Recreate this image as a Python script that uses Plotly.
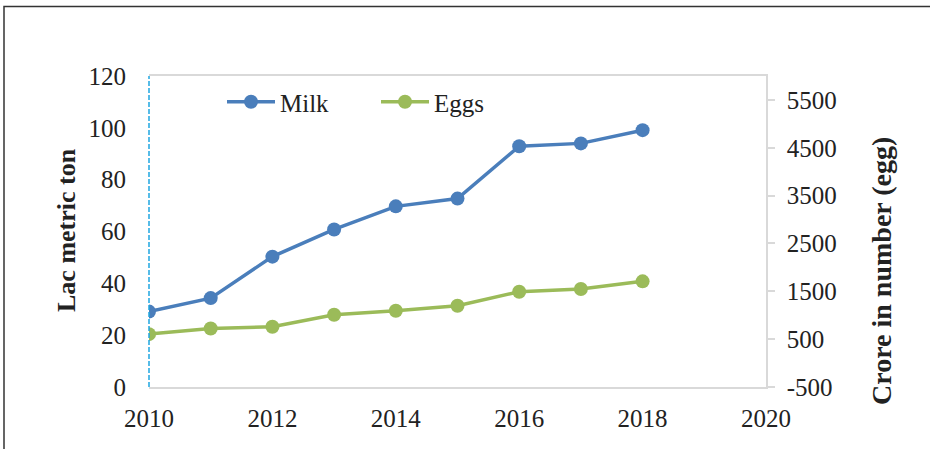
import plotly.graph_objects as go

years = [2010, 2011, 2012, 2013, 2014, 2015, 2016, 2017, 2018]
milk = [29.1, 34.3, 50.3, 60.8, 69.7, 72.7, 92.9, 94.0, 99.1]
eggs = [605, 722, 758, 1010, 1094, 1198, 1492, 1548, 1708]

x_ticks = [2010, 2012, 2014, 2016, 2018, 2020]
left_ticks = [0, 20, 40, 60, 80, 100, 120]
right_ticks = [-500, 500, 1500, 2500, 3500, 4500, 5500]
right_labels = ["-500", "500", "1500", "2500", "3500", "4500", "5500"]

FONT = "Liberation Serif, Times New Roman, serif"
MILK_C = "#4a7ebb"
EGG_C = "#9bbb59"
TXT = "#222"

fig = go.Figure()
fig.add_trace(go.Scatter(x=years, y=milk, name="Milk", mode="lines+markers",
                         line=dict(color=MILK_C, width=3.5),
                         marker=dict(color=MILK_C, size=14), yaxis="y"))
fig.add_trace(go.Scatter(x=years, y=eggs, name="Eggs", mode="lines+markers",
                         line=dict(color=EGG_C, width=3.5),
                         marker=dict(color=EGG_C, size=14), yaxis="y2"))

W, H = 930, 449
ml, mr, mt, mb = 149, 164, 76, 62
pw, ph = W - ml - mr, H - mt - mb

def px(xp):
    return (xp - ml) / pw

def py(yp):
    return (H - mb - yp) / ph

fig.update_layout(
    width=W, height=H,
    margin=dict(l=ml, r=mr, t=mt, b=mb),
    paper_bgcolor="white", plot_bgcolor="white",
    font=dict(family=FONT, size=25, color=TXT),
    showlegend=True,
    legend=dict(orientation="h", x=px(222), y=py(102), xanchor="left", yanchor="middle",
                font=dict(size=25, family=FONT, color=TXT), bgcolor="rgba(0,0,0,0)",
                itemwidth=48, entrywidth=91, entrywidthmode="pixels"),
    xaxis=dict(range=[2010, 2020], tickvals=x_ticks, showgrid=False, zeroline=False,
               showline=True, linecolor="#d9d9d9", linewidth=1.5, mirror=True,
               ticks="", ticklabelstandoff=8, tickfont=dict(size=25)),
    yaxis=dict(range=[0, 120], tickvals=left_ticks, showgrid=False, zeroline=False,
               showline=False, ticks="", ticklabelstandoff=22, tickfont=dict(size=25)),
    yaxis2=dict(range=[-500, 6000], tickvals=right_ticks, ticktext=right_labels,
                overlaying="y", side="right",
                showgrid=False, zeroline=False,
                showline=True, linecolor="#d9d9d9", linewidth=1.5,
                ticks="outside", ticklen=7, tickcolor="#d9d9d9", tickwidth=1.5,
                ticklabelstandoff=7, tickfont=dict(size=25)),
)

# dashed left axis line
fig.add_shape(type="line", xref="paper", yref="paper", x0=0, x1=0, y0=0, y1=1,
              line=dict(color="#1fa7e1", width=1.5, dash="5px,2px"), layer="above")

# outer frame (left and top)
fig.add_shape(type="path", xref="paper", yref="paper",
              path=f"M {px(4)} {py(452)} L {px(4)} {py(6.5)} L {px(932)} {py(6.5)}",
              line=dict(color="#333", width=1.5))

# axis titles
fig.add_annotation(text="<b>Lac metric ton</b>", xref="paper", yref="paper",
                   x=px(66), y=py(230), xanchor="center", yanchor="middle",
                   textangle=-90, showarrow=False,
                   font=dict(size=26, family=FONT, color=TXT))
fig.add_annotation(text="<b>Crore in number (egg)</b>", xref="paper", yref="paper",
                   x=px(881), y=py(271), xanchor="center", yanchor="middle",
                   textangle=-90, showarrow=False,
                   font=dict(size=28, family=FONT, color=TXT))

fig.write_html("out.html")
